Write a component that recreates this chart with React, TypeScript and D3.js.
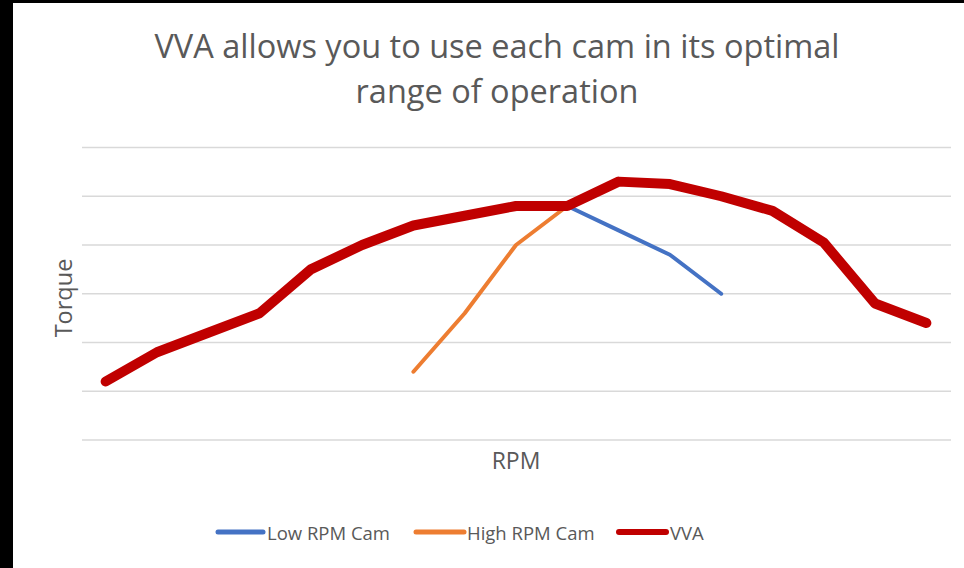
import React from "react";
import * as d3 from "d3";

const categories = ["1","2","3","4","5","6","7","8","9","10","11","12","13","14","15","16","17"];
const lowCam: (number | null)[] = [1.2, 1.8, 2.2, 2.6, 3.5, 4.0, 4.4, 4.6, 4.8, 4.8, 4.3, 3.8, 3.0, null, null, null, null];
const highCam: (number | null)[] = [null, null, null, null, null, null, 1.4, 2.6, 4.0, 4.8, 5.3, 5.25, 5.0, 4.7, 4.05, 2.8, 2.4];
const vva: number[] = [1.2, 1.8, 2.2, 2.6, 3.5, 4.0, 4.4, 4.6, 4.8, 4.8, 5.3, 5.25, 5.0, 4.7, 4.05, 2.8, 2.4];
const yTicks = [0, 1, 2, 3, 4, 5, 6];

const series = [
  { name: "Low RPM Cam", values: lowCam, color: "#4472C4", width: 4 },
  { name: "High RPM Cam", values: highCam, color: "#ED7D31", width: 4 },
  { name: "VVA", values: vva as (number | null)[], color: "#C00000", width: 10 },
];

export default function App() {
  const W = 964, H = 568;
  const x = d3.scalePoint<string>().domain(categories).range([80, 952]).padding(0.5);
  const y = d3.scaleLinear().domain([0, 6]).range([440, 147.5]);
  const line = d3
    .line<number | null>()
    .defined((d) => d !== null)
    .x((_, i) => x(categories[i]) as number)
    .y((d) => y(d as number));
  const font = "'Open Sans', sans-serif";
  const legend = [
    { x1: 218, x2: 263, tx: 267 },
    { x1: 416, x2: 464, tx: 467 },
    { x1: 619, x2: 666, tx: 670 },
  ];
  return (
    <svg width={W} height={H} style={{ position: "absolute", left: 0, top: 0 }}>
      <rect x={0} y={0} width={W} height={H} fill="#ffffff" />
      <rect x={0} y={0} width={13} height={H} fill="#000000" />
      <rect x={0} y={0} width={W} height={3} fill="#000000" />
      <text x={497} y={58} textAnchor="middle" fontFamily={font} fontSize={32.5} fill="#595959">
        VVA allows you to use each cam in its optimal
      </text>
      <text x={497} y={103} textAnchor="middle" fontFamily={font} fontSize={32.5} fill="#595959">
        range of operation
      </text>
      {yTicks.map((t) => (
        <line key={t} x1={82} x2={951} y1={y(t)} y2={y(t)} stroke="#D9D9D9" strokeWidth={1.5} />
      ))}
      {series.map((s) => (
        <path
          key={s.name}
          d={line(s.values) || ""}
          fill="none"
          stroke={s.color}
          strokeWidth={s.width}
          strokeLinecap="round"
          strokeLinejoin="round"
        />
      ))}
      <text
        transform="translate(72,298) rotate(-90)"
        textAnchor="middle"
        fontFamily={font}
        fontSize={23.5}
        fill="#595959"
      >
        Torque
      </text>
      <text x={516} y={469} textAnchor="middle" fontFamily={font} fontSize={23} fill="#595959">
        RPM
      </text>
      {series.map((s, i) => (
        <g key={s.name}>
          <line
            x1={legend[i].x1}
            x2={legend[i].x2}
            y1={532}
            y2={532}
            stroke={s.color}
            strokeWidth={s.width === 10 ? 6 : 5}
            strokeLinecap="round"
          />
          <text x={legend[i].tx} y={539.5} fontFamily={font} fontSize={18.5} fill="#595959">
            {s.name}
          </text>
        </g>
      ))}
    </svg>
  );
}
